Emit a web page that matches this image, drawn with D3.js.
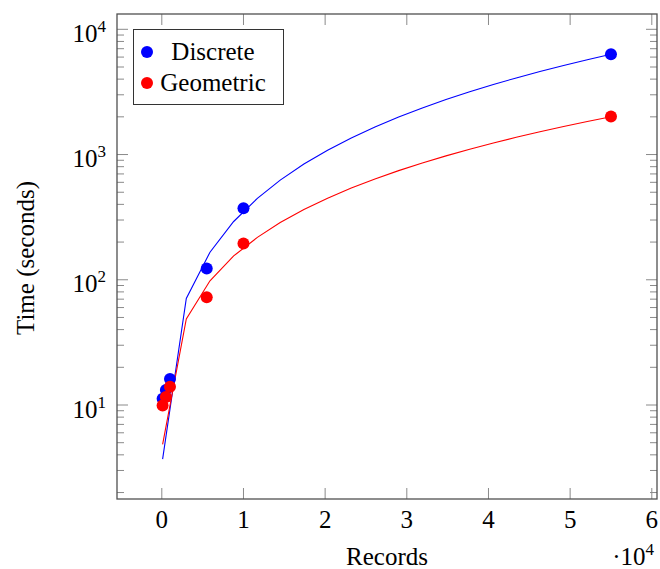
<!DOCTYPE html>
<html>
<head>
<meta charset="utf-8">
<script src="https://cdn.jsdelivr.net/npm/d3@7"></script>
<style>
  html, body { margin: 0; padding: 0; background: #fff; }
  svg { display: block; }
  text { font-family: "Liberation Serif", "Times New Roman", serif; fill: #000; }
</style>
</head>
<body>
<svg id="chart" width="660" height="569"></svg>
<script>
// ---- data ----
const seriesNames = ["Discrete", "Geometric"];
const seriesColors = ["#0000ff", "#ff0000"];

const recordCounts = [100, 500, 1000, 5500, 10000, 55000];
const discreteTimes = [11.2, 13.2, 16.1, 123, 372, 6320];
const geometricTimes = [9.9, 11.6, 14.0, 72.4, 195, 2010];

// fitted curves, sampled along records axis
const fitRecords = [100, 3000, 5900, 8800, 11700, 14500, 17400, 20300, 23200, 26100,
                    29000, 31900, 34800, 37700, 40600, 43400, 46300, 49200, 52100, 55000];
const discreteFit = [3.7, 71.0, 166, 292, 447, 625, 839, 1083, 1356, 1660,
                     1993, 2357, 2750, 3173, 3626, 4091, 4603, 5144, 5715, 6317];
const geometricFit = [4.85, 48.7, 98.2, 155, 218, 287, 364, 448, 540, 639,
                      744, 857, 976, 1103, 1237, 1373, 1520, 1675, 1836, 2005];

const xTickValues = [0, 10000, 20000, 30000, 40000, 50000, 60000];
const xTickLabels = ["0", "1", "2", "3", "4", "5", "6"];
const yMajorTicks = [10, 100, 1000, 10000];
const yTickExponents = ["1", "2", "3", "4"];

const xLimits = [-5486, 60636];
const yLimits = [Math.pow(10, 0.2494), Math.pow(10, 4.1222)];

// ---- layout ----
const svg = d3.select("#chart");
const L = 117, R = 657, T = 14, B = 499;

const x = d3.scaleLinear().domain(xLimits).range([L, R]);
const y = d3.scaleLog().domain(yLimits).range([B, T]);

const tickColor = "#8a8a8a";
const majorLen = 11, minorLen = 7;
const fs = 25, fsSup = 17;

// minor y ticks
const yMinor = [];
[1, 10, 100, 1000, 10000].forEach(d => {
  for (let k = 2; k <= 9; k++) {
    const v = k * d;
    if (v > yLimits[0] && v < yLimits[1]) yMinor.push(v);
  }
});

const g = svg.append("g");

// y ticks (left and right, inward)
g.selectAll(".ymin-l").data(yMinor).enter().append("line")
  .attr("x1", L).attr("x2", L + minorLen)
  .attr("y1", d => y(d)).attr("y2", d => y(d))
  .attr("stroke", tickColor).attr("stroke-width", 1);
g.selectAll(".ymin-r").data(yMinor).enter().append("line")
  .attr("x1", R).attr("x2", R - minorLen)
  .attr("y1", d => y(d)).attr("y2", d => y(d))
  .attr("stroke", tickColor).attr("stroke-width", 1);
g.selectAll(".ymaj-l").data(yMajorTicks).enter().append("line")
  .attr("x1", L).attr("x2", L + majorLen)
  .attr("y1", d => y(d)).attr("y2", d => y(d))
  .attr("stroke", tickColor).attr("stroke-width", 1);
g.selectAll(".ymaj-r").data(yMajorTicks).enter().append("line")
  .attr("x1", R).attr("x2", R - majorLen)
  .attr("y1", d => y(d)).attr("y2", d => y(d))
  .attr("stroke", tickColor).attr("stroke-width", 1);

// x ticks (bottom and top, inward)
g.selectAll(".xt-b").data(xTickValues).enter().append("line")
  .attr("x1", d => x(d)).attr("x2", d => x(d))
  .attr("y1", B).attr("y2", B - majorLen)
  .attr("stroke", tickColor).attr("stroke-width", 1);
g.selectAll(".xt-t").data(xTickValues).enter().append("line")
  .attr("x1", d => x(d)).attr("x2", d => x(d))
  .attr("y1", T).attr("y2", T + majorLen)
  .attr("stroke", tickColor).attr("stroke-width", 1);

// frame
g.append("rect").attr("x", L).attr("y", T).attr("width", R - L).attr("height", B - T)
  .attr("fill", "none").attr("stroke", "#505050").attr("stroke-width", 1.3);

// x tick labels
g.selectAll(".xl").data(xTickValues).enter().append("text")
  .attr("x", d => x(d)).attr("y", 528)
  .attr("text-anchor", "middle").attr("font-size", fs)
  .text((d, i) => xTickLabels[i]);

// y tick labels
const yl = g.selectAll(".yl").data(yMajorTicks).enter().append("text")
  .attr("x", 106).attr("y", d => y(d) + 12.5)
  .attr("text-anchor", "end").attr("font-size", fs);
yl.append("tspan").text("10");
yl.append("tspan").attr("dy", -10).attr("font-size", fsSup).text((d, i) => yTickExponents[i]);

// axis labels
g.append("text").attr("x", 387).attr("y", 565).attr("text-anchor", "middle")
  .attr("font-size", fs).text("Records");
const sc = g.append("text").attr("x", 654).attr("y", 565).attr("text-anchor", "end")
  .attr("font-size", fs);
sc.append("tspan").text("\u00B710");
sc.append("tspan").attr("dy", -10).attr("font-size", fsSup).text("4");

g.append("text").attr("transform", "translate(34,258) rotate(-90)")
  .attr("text-anchor", "middle").attr("font-size", fs).text("Time (seconds)");

// clip for data
svg.append("defs").append("clipPath").attr("id", "clip")
  .append("rect").attr("x", L).attr("y", T).attr("width", R - L).attr("height", B - T);
const plot = svg.append("g").attr("clip-path", "url(#clip)");

const line = d3.line().x(d => x(d[0])).y(d => y(d[1]));
const fits = [discreteFit, geometricFit];
const pts = [discreteTimes, geometricTimes];

fits.forEach((f, i) => {
  plot.append("path").datum(fitRecords.map((r, j) => [r, f[j]]))
    .attr("d", line).attr("fill", "none")
    .attr("stroke", seriesColors[i]).attr("stroke-width", 1.1);
});
pts.forEach((p, i) => {
  plot.selectAll(".pt" + i).data(recordCounts.map((r, j) => [r, p[j]])).enter()
    .append("circle")
    .attr("cx", d => x(d[0])).attr("cy", d => y(d[1])).attr("r", 6)
    .attr("fill", seriesColors[i]);
});

// legend
const lg = svg.append("g");
lg.append("rect").attr("x", 133.5).attr("y", 29.5).attr("width", 150).attr("height", 75)
  .attr("fill", "#fff").attr("stroke", "#333").attr("stroke-width", 1);
seriesNames.forEach((n, i) => {
  const cy = 52 + i * 31;
  lg.append("circle").attr("cx", 147).attr("cy", cy).attr("r", 6).attr("fill", seriesColors[i]);
  lg.append("text").attr("x", 213).attr("y", cy + 8).attr("text-anchor", "middle")
    .attr("font-size", fs).text(n);
});
</script>
</body>
</html>
